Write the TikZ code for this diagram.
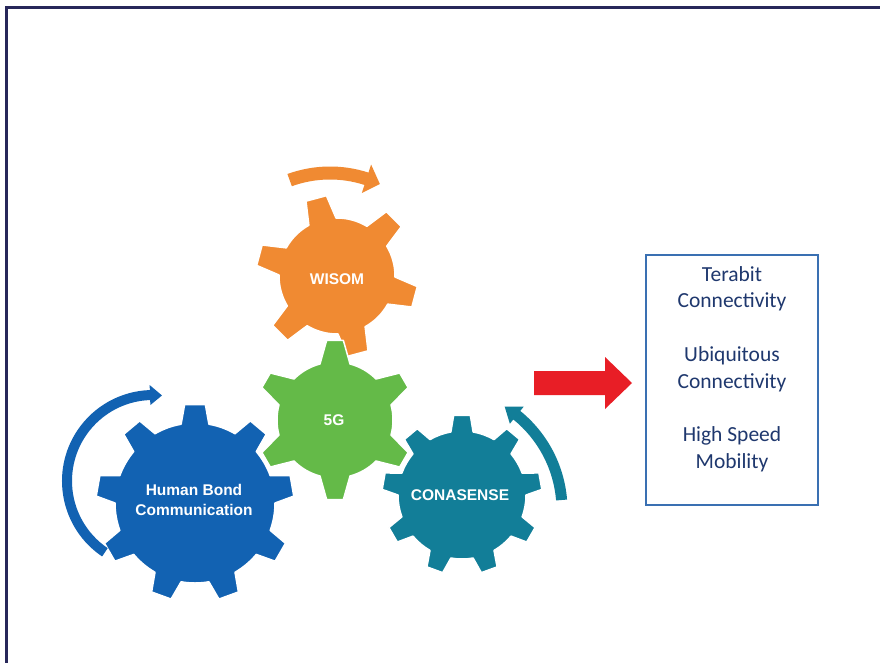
\documentclass[tikz,border=0pt]{standalone}
\usepackage{fontspec}
\setmainfont{Carlito}
\newfontfamily\gearfont{Liberation Sans}
\definecolor{gorange}{HTML}{F08A32}
\definecolor{ggreen}{HTML}{64BA48}
\definecolor{gblue}{HTML}{1262B2}
\definecolor{gteal}{HTML}{127E98}
\definecolor{ared}{HTML}{E81E26}
\definecolor{tnavy}{HTML}{1F386E}
\definecolor{bblue}{HTML}{3A70B2}
\definecolor{fnavy}{HTML}{28285A}
% gear: #1 cx, #2 cy, #3 body r, #4 outer r, #5 tooth angle list, #6 step, #7 base half-angle, #8 tip half-angle, #9 colour
\newcommand{\mygear}[9]{%
  \fill[#9, draw=white, line width=1.5pt, line join=round, shift={(#1,#2)}]
    ({\firstang-#7}:#3)
    \foreach \th in {#5}{
      -- ({\th-#7}:#3) -- ({\th-#8}:#4) -- ({\th+#8}:#4) -- ({\th+#7}:#3)
      arc[start angle={\th+#7}, end angle={\th+#6-#7}, radius=#3]
    } -- cycle;}
% curved arrow: #1 cx, #2 cy, #3 r, #4 start, #5 head base, #6 tip, #7 width, #8 head half width, #9 colour
\newcommand{\mycurvarrow}[9]{%
  \fill[#9, shift={(#1,#2)}]
    ({#4}:{#3+#7/2}) arc[start angle=#4, end angle=#5, radius={#3+#7/2}]
    -- ({#5}:{#3+#8}) -- ({#6}:#3) -- ({#5}:{#3-#8}) -- ({#5}:{#3-#7/2})
    arc[start angle=#5, end angle=#4, radius={#3-#7/2}] -- cycle;}
\tikzset{
  geartext/.style={text=white, font=\gearfont\bfseries\fontsize{15.5}{20}\selectfont, align=center, inner sep=0pt},
  infobox/.style={draw=bblue, line width=2pt, minimum width=172pt, minimum height=250pt, inner sep=0pt},
  infotext/.style={text=tnavy, font=\fontsize{21.5}{26.7}\selectfont, align=center, inner sep=0pt}
}
\begin{document}
\begin{tikzpicture}[x=1pt, y=1pt]
\useasboundingbox (0,0) rectangle (880,-663);
\fill[white] (0,0) rectangle (880,-663);
% frame
\draw[fnavy, line width=3pt] (6,-663) -- (6,-7.5) -- (880,-7.5);
% gears
\def\firstang{10}
\mygear{195}{-503}{80}{99}{10,50,...,330}{40}{10}{6}{gblue}
\mygear{462}{-495}{64}{80}{10,50,...,330}{40}{10}{6}{gteal}
\def\firstang{45}
\mygear{337}{-276}{58}{81}{45,105,...,345}{60}{14}{7.5}{gorange}
\def\firstang{30}
\mygear{335}{-420}{58}{80}{30,90,...,330}{60}{15}{6}{ggreen}
% curved arrows
\mycurvarrow{330}{-291}{118}{110}{72}{65}{13}{15}{gorange}
\mycurvarrow{153}{-481}{86}{236}{92}{84}{10}{10}{gblue}
\mycurvarrow{440}{-510}{122}{4.7}{51}{58}{11}{11}{gteal}
% gear labels
\node[geartext] (wisom) at (337,-279) {WISOM};
\node[geartext] (fiveg) at (334,-420) {5G};
\node[geartext] (hbc) at (194,-500) {Human Bond\\Communication};
\node[geartext] (cona) at (460,-495) {CONASENSE};
% red arrow
\fill[ared] (534,-371) -- (605,-371) -- (605,-357) -- (632,-383) -- (605,-409) -- (605,-395) -- (534,-395) -- cycle;
% box
\node[infobox] (box) at (732,-380) {};
\node[infotext] (boxtext) at (732,-369) {Terabit\\Connectivity\\[26.7pt]Ubiquitous\\Connectivity\\[26.7pt]High Speed\\Mobility};
\end{tikzpicture}
\end{document}
